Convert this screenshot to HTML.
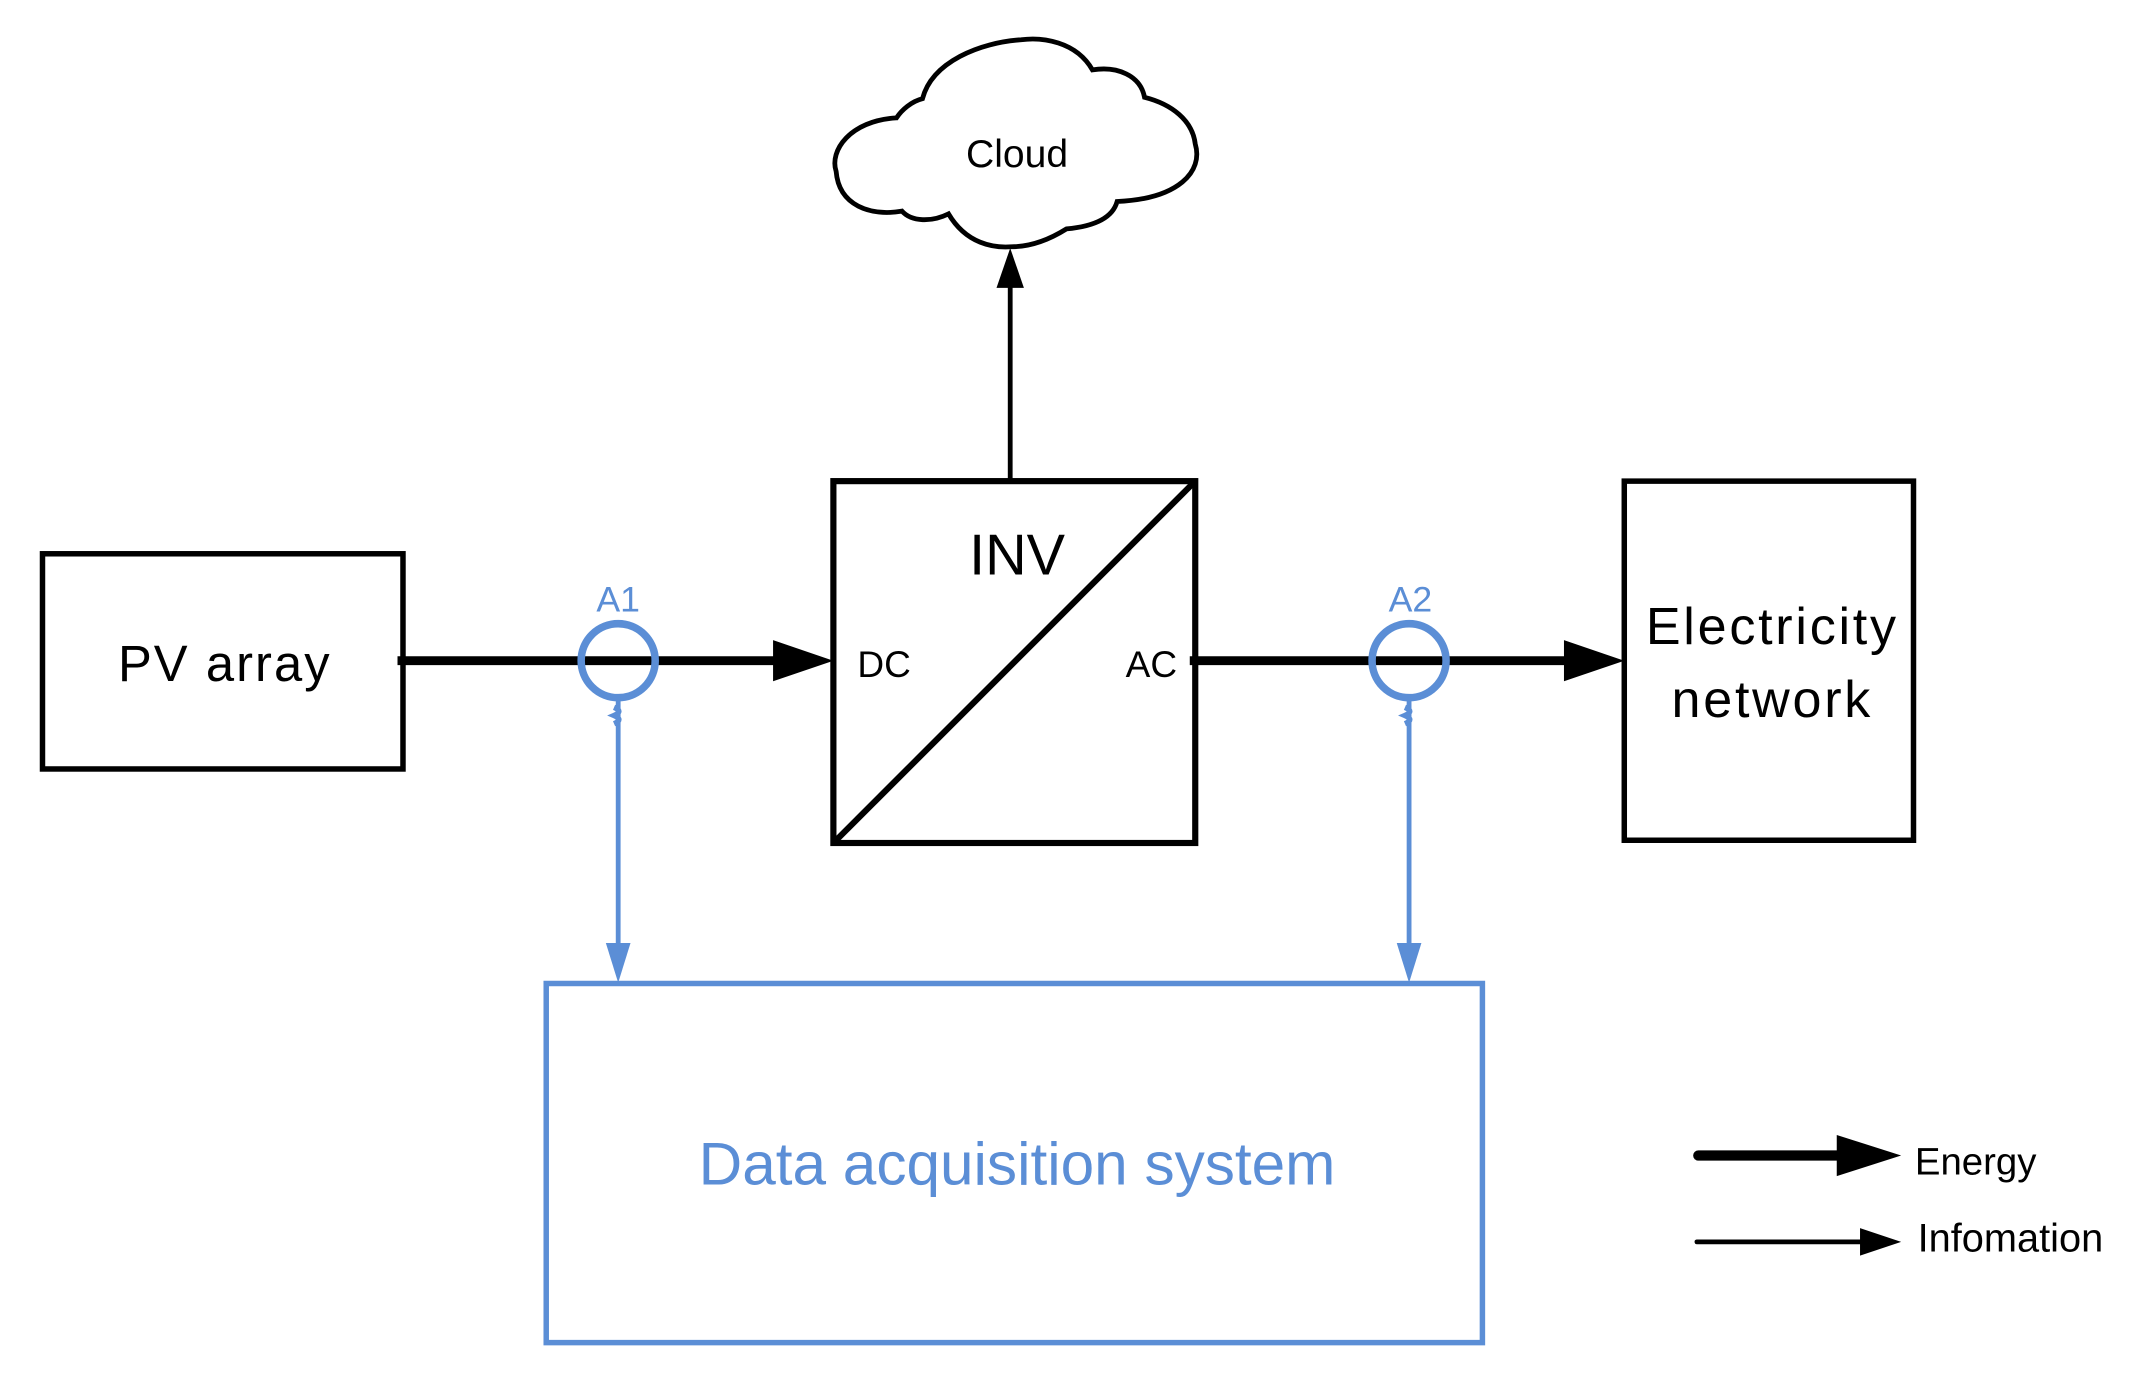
<!DOCTYPE html>
<html><head><meta charset="utf-8"><style>html,body{margin:0;padding:0;background:#fff}svg{display:block}</style></head>
<body>
<svg width="2152" height="1388" viewBox="0 0 1570 1012.6" xmlns="http://www.w3.org/2000/svg" font-family="Liberation Sans, sans-serif">
<rect width="1570" height="1013" fill="#fff"/>
<path d="M654,86 C620,88 605,110 610,125 C612,150 635,158 658,154 C665,162 680,162 692,156 C705,178 725,181 738,180 C755,180 770,172 778,167 C800,165 812,158 815,147 C860,145 878,125 872,105 C870,88 855,76 835,71 C832,55 815,48 797,51 C785,30 760,27 745,29 C715,31 680,45 673,72 C665,74 658,80 654,86 Z" fill="#fff" stroke="#000" stroke-width="3.5"/>
<text x="742" y="122" font-size="28.5" text-anchor="middle">Cloud</text>
<line x1="737" y1="352" x2="737" y2="205" stroke="#000" stroke-width="3.5"/>
<polygon points="737,181 727,210 747,210" fill="#000"/>
<rect x="31" y="404" width="263" height="157" fill="none" stroke="#000" stroke-width="4"/>
<text x="164" y="497" font-size="37" text-anchor="middle" letter-spacing="1.5">PV array</text>
<rect x="608" y="351" width="264" height="264" fill="none" stroke="#000" stroke-width="4.5"/>
<line x1="608" y1="615" x2="872" y2="351" stroke="#000" stroke-width="4.5"/>
<text x="742" y="419" font-size="42" text-anchor="middle">INV</text>
<text x="645" y="494" font-size="27" text-anchor="middle">DC</text>
<text x="840" y="494" font-size="27" text-anchor="middle">AC</text>
<rect x="1185" y="351" width="211" height="262" fill="none" stroke="#000" stroke-width="4"/>
<text x="1293" y="470" font-size="38" text-anchor="middle" letter-spacing="2">Electricity</text>
<text x="1293" y="523" font-size="38" text-anchor="middle" letter-spacing="2">network</text>
<line x1="290" y1="482" x2="570" y2="482" stroke="#000" stroke-width="6.5"/>
<polygon points="608,482 564,467 564,497" fill="#000"/>
<line x1="868" y1="482" x2="1145" y2="482" stroke="#000" stroke-width="6.5"/>
<polygon points="1185,482 1141,467 1141,497" fill="#000"/>
<g stroke="#5B8ED6" fill="none">
<circle cx="451" cy="482" r="27" stroke-width="5.5"/>
<circle cx="1028" cy="482" r="27" stroke-width="5.5"/>
<line x1="451" y1="509" x2="451" y2="692" stroke-width="3.5"/>
<line x1="1028" y1="509" x2="1028" y2="692" stroke-width="3.5"/>
<path d="M448,516 q7,3 0,6 q7,3 0,6" stroke-width="4"/>
<path d="M1025,516 q7,3 0,6 q7,3 0,6" stroke-width="4"/>
<rect x="398.5" y="717.5" width="683" height="262" stroke-width="4"/>
</g>
<polygon points="451,717 442,688 460,688" fill="#5B8ED6"/>
<polygon points="1028,717 1019,688 1037,688" fill="#5B8ED6"/>
<text x="451" y="446" font-size="26" fill="#5B8ED6" text-anchor="middle">A1</text>
<text x="1029" y="446" font-size="26" fill="#5B8ED6" text-anchor="middle">A2</text>
<text x="742" y="864" font-size="44" fill="#5B8ED6" text-anchor="middle">Data acquisition system</text>
<line x1="1239" y1="843" x2="1345" y2="843" stroke="#000" stroke-width="7.5" stroke-linecap="round"/>
<polygon points="1387,843 1340,828 1340,858" fill="#000"/>
<text x="1397" y="857" font-size="28">Energy</text>
<line x1="1238" y1="906" x2="1360" y2="906" stroke="#000" stroke-width="3.5" stroke-linecap="round"/>
<polygon points="1387,906 1357,896 1357,916" fill="#000"/>
<text x="1399" y="913" font-size="29">Infomation</text>
</svg>
</body></html>
